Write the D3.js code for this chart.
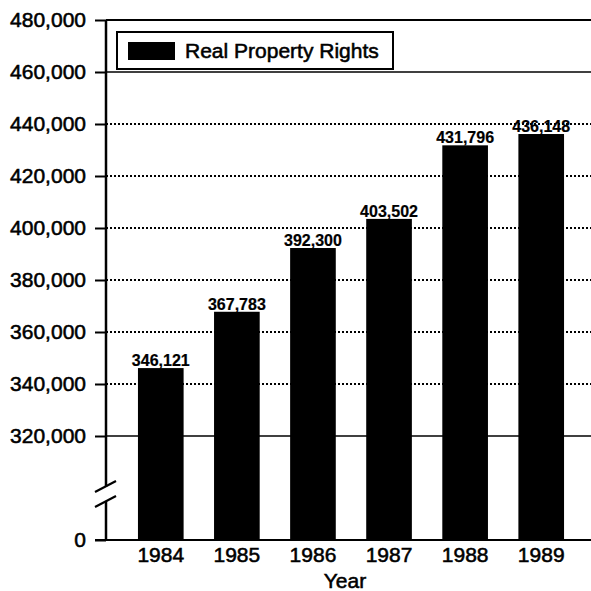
<!DOCTYPE html>
<html><head><meta charset="utf-8">
<script src="https://cdn.jsdelivr.net/npm/d3@7"></script>
<style>
html,body{margin:0;padding:0;background:#fff;}
text{font-family:"Liberation Sans",Arial,Helvetica,sans-serif;fill:#000;stroke:#000;stroke-width:0.55px;}
</style></head>
<body><svg id="c" width="591" height="591"></svg>
<script>
const years = ["1984","1985","1986","1987","1988","1989"];
const values = [346121, 367783, 392300, 403502, 431796, 436148];
const valueLabels = ["346,121","367,783","392,300","403,502","431,796","436,148"];
const yTicks = [0, 320000, 340000, 360000, 380000, 400000, 420000, 440000, 460000, 480000];
const solidGrid = [320000, 460000, 480000];
const seriesName = "Real Property Rights";
const xTitle = "Year";

const svg = d3.select("#c");
const axisX = 106, right = 591;

const x = d3.scaleBand().domain(years).range([106, 596]).paddingInner(0.4).paddingOuter(0.42);
// broken axis: 0 at bottom, then jump to 320,000
const y = d3.scaleLinear().domain([0, 320000, 480000]).range([540, 436, 20]);

// grid lines
const grid = svg.append("g");
yTicks.filter(v => v > 0).forEach(v => {
  const solid = solidGrid.includes(v);
  grid.append("line")
    .attr("x1", axisX).attr("x2", right)
    .attr("y1", y(v)).attr("y2", y(v))
    .attr("stroke", "#000")
    .attr("stroke-width", v === 480000 ? 2.2 : (solid ? 1.6 : 2))
    .attr("stroke-dasharray", solid ? null : "2,2");
});

// bars
svg.append("g").selectAll("rect").data(values).join("rect")
  .attr("x", (d, i) => x(years[i]))
  .attr("width", x.bandwidth())
  .attr("y", d => y(d))
  .attr("height", d => y(0) - y(d))
  .attr("fill", "#000");

// value labels
svg.append("g").selectAll("text").data(values).join("text")
  .attr("x", (d, i) => x(years[i]) + x.bandwidth() / 2)
  .attr("y", d => y(d) - 2)
  .attr("text-anchor", "middle")
  .attr("font-size", 16)
  .attr("font-weight", "bold")
  .style("stroke-width", "0.2px")
  .text((d, i) => valueLabels[i]);

// baseline
svg.append("line").attr("x1", 95).attr("x2", right)
  .attr("y1", y(0)).attr("y2", y(0)).attr("stroke", "#000").attr("stroke-width", 2.2);

// left axis ticks and labels
const yAxis = d3.axisLeft(y).tickValues(yTicks).tickFormat(d3.format(",")).tickSize(11).tickPadding(9);
const ga = svg.append("g").attr("transform", `translate(${axisX},0)`).call(yAxis);
ga.select(".domain").remove();
ga.selectAll(".tick line").attr("stroke", "#000").attr("stroke-width", 2);
ga.selectAll(".tick text").attr("font-size", 21).attr("font-family", '"Liberation Sans",Arial,sans-serif').attr("fill", "#000");

// axis line with break
svg.append("line").attr("x1", axisX).attr("x2", axisX).attr("y1", y(480000)).attr("y2", 487)
  .attr("stroke", "#000").attr("stroke-width", 2.5);
svg.append("line").attr("x1", axisX).attr("x2", axisX).attr("y1", 501).attr("y2", y(0))
  .attr("stroke", "#000").attr("stroke-width", 2.5);
[[95, 492, 116, 481], [95, 507, 116, 496]].forEach(s => {
  svg.append("line").attr("x1", s[0]).attr("y1", s[1]).attr("x2", s[2]).attr("y2", s[3])
    .attr("stroke", "#000").attr("stroke-width", 2.2);
});

// x axis labels
const xAxis = d3.axisBottom(x).tickSize(0).tickPadding(7);
const gx = svg.append("g").attr("transform", `translate(0,${y(0)})`).call(xAxis);
gx.select(".domain").remove();
gx.selectAll(".tick text").attr("font-size", 21).attr("font-family", '"Liberation Sans",Arial,sans-serif').attr("fill", "#000");

svg.append("text").attr("x", 345).attr("y", 588).attr("text-anchor", "middle")
  .attr("font-size", 21).text(xTitle);

// legend
const lg = svg.append("g");
lg.append("rect").attr("x", 117).attr("y", 32).attr("width", 276).attr("height", 37)
  .attr("fill", "#fff").attr("stroke", "#000").attr("stroke-width", 2);
lg.append("rect").attr("x", 128).attr("y", 42).attr("width", 47).attr("height", 18).attr("fill", "#000");
lg.append("text").attr("x", 185).attr("y", 58).attr("font-size", 21).text(seriesName);
</script></body></html>
